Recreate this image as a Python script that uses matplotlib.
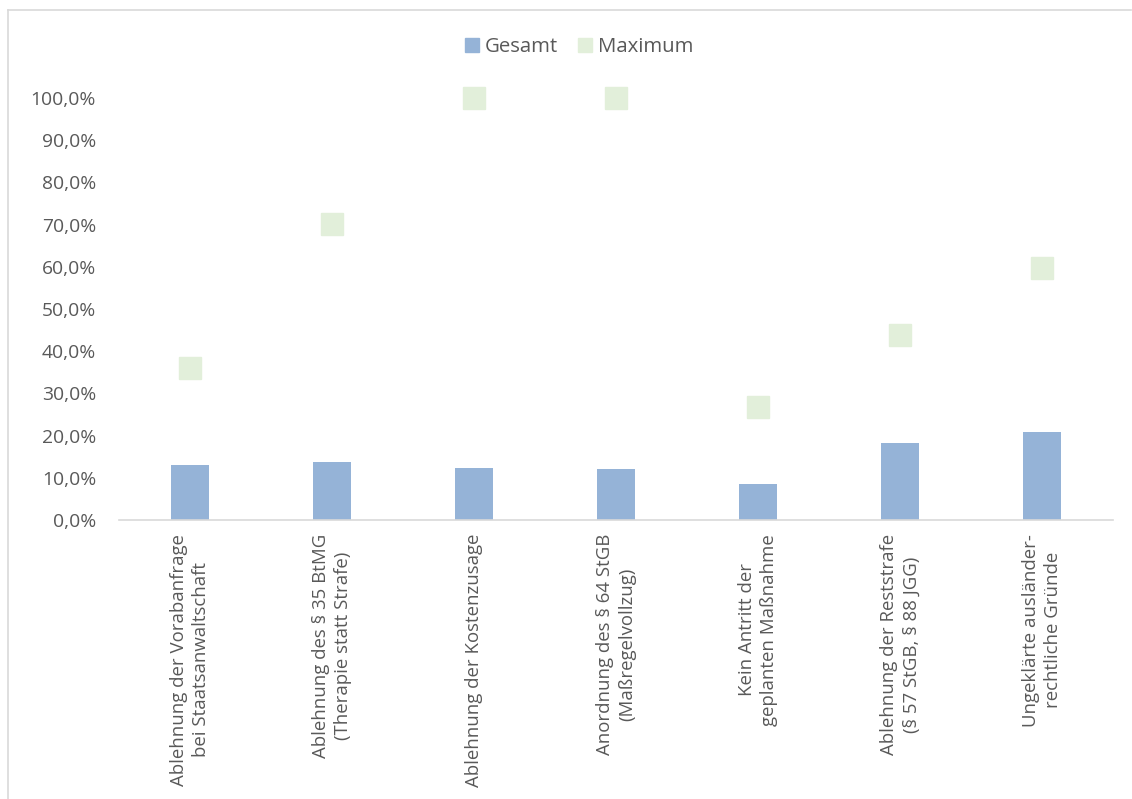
import matplotlib
matplotlib.use("Agg")
import matplotlib.pyplot as plt
from matplotlib.lines import Line2D
from matplotlib.ticker import FuncFormatter
import numpy as np

categories = [
    "Ablehnung der Vorabanfrage\nbei Staatsanwaltschaft",
    "Ablehnung des § 35 BtMG\n(Therapie statt Strafe)",
    "Ablehnung der Kostenzusage",
    "Anordnung des § 64 StGB\n(Maßregelvollzug)",
    "Kein Antritt der\ngeplanten Maßnahme",
    "Ablehnung der Reststrafe\n(§ 57 StGB, § 88 JGG)",
    "Ungeklärte ausländer-\nrechtliche Gründe",
]
gesamt = [0.131, 0.137, 0.123, 0.122, 0.086, 0.183, 0.208]
maximum = [0.361, 0.701, 1.0, 1.0, 0.268, 0.439, 0.598]

BLUE, GREEN, TEXT, AXIS = "#95b3d7", "#e2efda", "#595959", "#d9d9d9"

plt.rcParams["font.family"] = ["Open Sans", "DejaVu Sans"]

W, H = 1132, 799
fig = plt.figure(figsize=(W/100, H/100), dpi=100)
ax = fig.add_axes([119/W, 1-520/H, (1113-119)/W, (520-98)/H])

x = np.arange(len(categories))
ax.bar(x, gesamt, 0.27, color=BLUE, label="Gesamt", zorder=2)
ax.plot(x, maximum, ls="none", marker="s", ms=15.5, color=GREEN,
        label="Maximum", zorder=3, clip_on=False)

ax.set_xlim(-0.5, len(categories)-0.5)
ax.set_ylim(0, 1.0)
ax.set_yticks(np.arange(0, 1.01, 0.1))
ax.yaxis.set_major_formatter(FuncFormatter(lambda v, _: f"{v*100:.1f}%".replace(".", ",")))
ax.set_xticks(x)
ax.set_xticklabels(categories, rotation=90, ha="center", va="top",
                   multialignment="center", linespacing=1.35)
ax.tick_params(length=0, labelcolor=TEXT)
ax.tick_params(axis="x", pad=10, labelsize=13.4)
ax.tick_params(axis="y", pad=16.5, labelsize=13.9)
for side in ("top", "right", "left"):
    ax.spines[side].set_visible(False)
ax.spines["bottom"].set_color(AXIS)
ax.spines["bottom"].set_linewidth(1.2)

handles = [Line2D([], [], ls="none", marker="s", ms=10, color=BLUE),
           Line2D([], [], ls="none", marker="s", ms=10, color=GREEN)]
fig.legend(handles, ["Gesamt", "Maximum"], loc="center",
           bbox_to_anchor=(579/W, 1-47.5/H), ncol=2, frameon=False,
           fontsize=14.7, labelcolor=TEXT, handletextpad=0.25,
           columnspacing=1.0, handlelength=0.7)

# chart-area border (top and left edges visible in the reference)
fig.add_artist(Line2D([7.5/W, 1131/W], [1-9.5/H, 1-9.5/H],
                      transform=fig.transFigure, color=AXIS, lw=1.2))
fig.add_artist(Line2D([7.5/W, 7.5/W], [1-9.5/H, 0],
                      transform=fig.transFigure, color=AXIS, lw=1.2))

fig.savefig("out.png", dpi=100)
